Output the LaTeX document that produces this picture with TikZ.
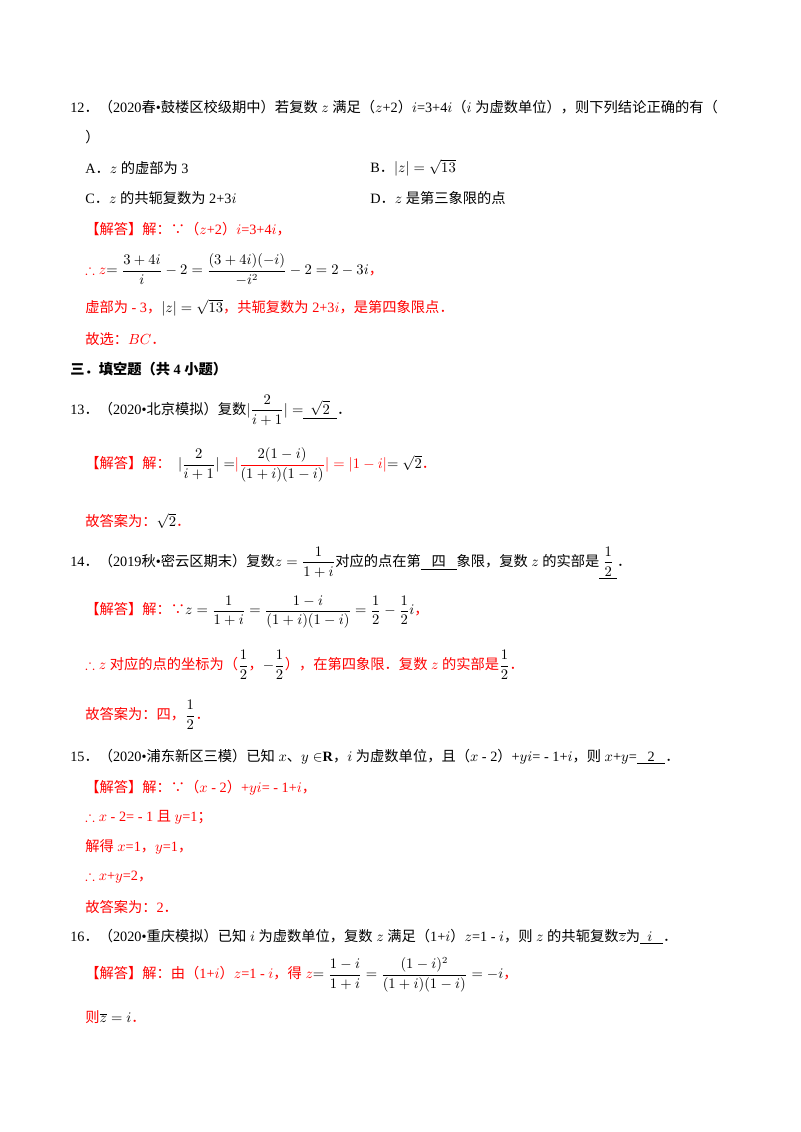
\documentclass[tikz,border=0pt]{standalone}
\usepackage{amsmath,amssymb}
\usepackage{fontspec}
\setmainfont{Liberation Serif}
\newfontfamily\cjkf{Noto Sans CJK SC}
\newcommand{\zh}[1]{{\cjkf #1}}
\newcommand{\zhb}[1]{{\cjkf\bfseries #1}}
\newcommand{\Pd}{\zh{．}}
\newcommand{\Cm}{\zh{，}}
\definecolor{ans}{HTML}{FF0000}
\begin{document}
\begin{tikzpicture}[x=0.75pt,y=-0.75pt,
  t/.style={anchor=west,inner sep=0pt,font=\fontsize{10.7}{12}\selectfont},
  r/.style={t,text=ans}]
\useasboundingbox (0,0) rectangle (800,1132);
\node[t] (q12) at (70,107) {12\Pd\zh{（}2020\zh{春}•\zh{鼓楼区校级期中）若复数} $z$ \zh{满足（}$z$+2\zh{）}$i$=3+4$i$\zh{（}$i$ \zh{为虚数单位），则下列结论正确的有（}};
\node[t] (q12b) at (85,137) {\zh{）}};
\node[t] (a) at (85,168) {A\Pd$z$ \zh{的虚部为} 3};
\node[t] (b) at (370,168) {B\Pd$|z|=\sqrt{13}$};
\node[t] (c) at (85,198) {C\Pd$z$ \zh{的共轭复数为} 2+3$i$};
\node[t] (d) at (370,198) {D\Pd$z$ \zh{是第三象限的点}};
\node[r] (s1) at (85,229) {\zh{【解答】解：∵（}$z$+2\zh{）}$i$=3+4$i$\Cm};
\node[r] (s2) at (85,270) {$\therefore z$\textcolor{black}{$=\dfrac{3+4i}{i}-2=\dfrac{(3+4i)(-i)}{-i^2}-2=2-3i$}\Cm};
\node[r] (s3) at (85,308) {\zh{虚部为} - 3\Cm\textcolor{black}{$|z|=\sqrt{13}$}\zh{，共轭复数为} 2+3$i$\zh{，是第四象限点．}};
\node[r] (s4) at (85,339) {\zh{故选：}$BC$\Pd};
\node[t] (h3) at (70,369) {\zhb{三．填空题（共} \textbf{4} \zhb{小题）}};
\node[t] (q13) at (70,410) {13\Pd\zh{（}2020•\zh{北京模拟）复数}$|\dfrac{2}{i+1}|=$\underline{\ \ $\sqrt{2}$\ \ }\Pd};
\node[r] (s13) at (85,465) {\zh{【解答】解：}\ \ \textcolor{black}{$|\dfrac{2}{i+1}|=$}$|\dfrac{\textcolor{black}{2(1-i)}}{\textcolor{black}{(1+i)(1-i)}}|=|1-i|$\textcolor{black}{$=\sqrt{2}$}\Pd};
\node[r] (s13b) at (85,521) {\zh{故答案为：}\textcolor{black}{$\sqrt{2}$}\Pd};
\node[t] (q14) at (70,563) {14\Pd\zh{（}2019\zh{秋}•\zh{密云区期末）复数}$z=\dfrac{1}{1+i}$\zh{对应的点在第}\underline{\ \ \ \zh{四}\ \ \ }\zh{象限，复数} $z$ \zh{的实部是}\underline{\ $\dfrac{1}{2}$\ }\Pd};
\node[r] (s14) at (85,612) {\zh{【解答】解：∵}\textcolor{black}{$z=\dfrac{1}{1+i}=\dfrac{1-i}{(1+i)(1-i)}=\dfrac{1}{2}-\dfrac{1}{2}i$}\Cm};
\node[r] (s14b) at (85,665) {$\therefore z$ \zh{对应的点的坐标为（}\textcolor{black}{$\dfrac{1}{2}$}\Cm\textcolor{black}{$-\dfrac{1}{2}$}\zh{），在第四象限．复数} $z$ \zh{的实部是}\textcolor{black}{$\dfrac{1}{2}$}\Pd};
\node[r] (s14c) at (85,715) {\zh{故答案为：四，}\textcolor{black}{$\dfrac{1}{2}$}\Pd};
\node[t] (q15) at (70,757) {15\Pd\zh{（}2020•\zh{浦东新区三模）已知} $x$\zh{、}$y\in$\textbf{R}\Cm$i$ \zh{为虚数单位，且（}$x$ - 2\zh{）}+$yi$= - 1+$i$\Cm\zh{则} $x$+$y$=\underline{\ \ \ 2\ \ \ }\Pd};
\node[r] (s15) at (85,788) {\zh{【解答】解：∵（}$x$ - 2\zh{）}+$yi$= - 1+$i$\Cm};
\node[r] (s15b) at (85,817) {$\therefore x$ - 2= - 1 \zh{且} $y$=1\zh{；}};
\node[r] (s15c) at (85,847) {\zh{解得} $x$=1\Cm$y$=1\Cm};
\node[r] (s15d) at (85,877) {$\therefore x$+$y$=2\Cm};
\node[r] (s15e) at (85,907) {\zh{故答案为：}2\Pd};
\node[t] (q16) at (70,937) {16\Pd\zh{（}2020•\zh{重庆模拟）已知} $i$ \zh{为虚数单位，复数} $z$ \zh{满足（}1+$i$\zh{）}$z$=1 - $i$\Cm\zh{则} $z$ \zh{的共轭复数}$\overline{z}$\zh{为}\underline{\ \ $i$\ \ \ }\Pd};
\node[r] (s16) at (85,975) {\zh{【解答】解：由（}1+$i$\zh{）}$z$=1 - $i$\Cm\zh{得} $z$\textcolor{black}{$=\dfrac{1-i}{1+i}=\dfrac{(1-i)^2}{(1+i)(1-i)}=-i$}\Cm};
\node[r] (s16b) at (85,1017) {\zh{则}\textcolor{black}{$\overline{z}=i$}\Pd};
\end{tikzpicture}
\end{document}
